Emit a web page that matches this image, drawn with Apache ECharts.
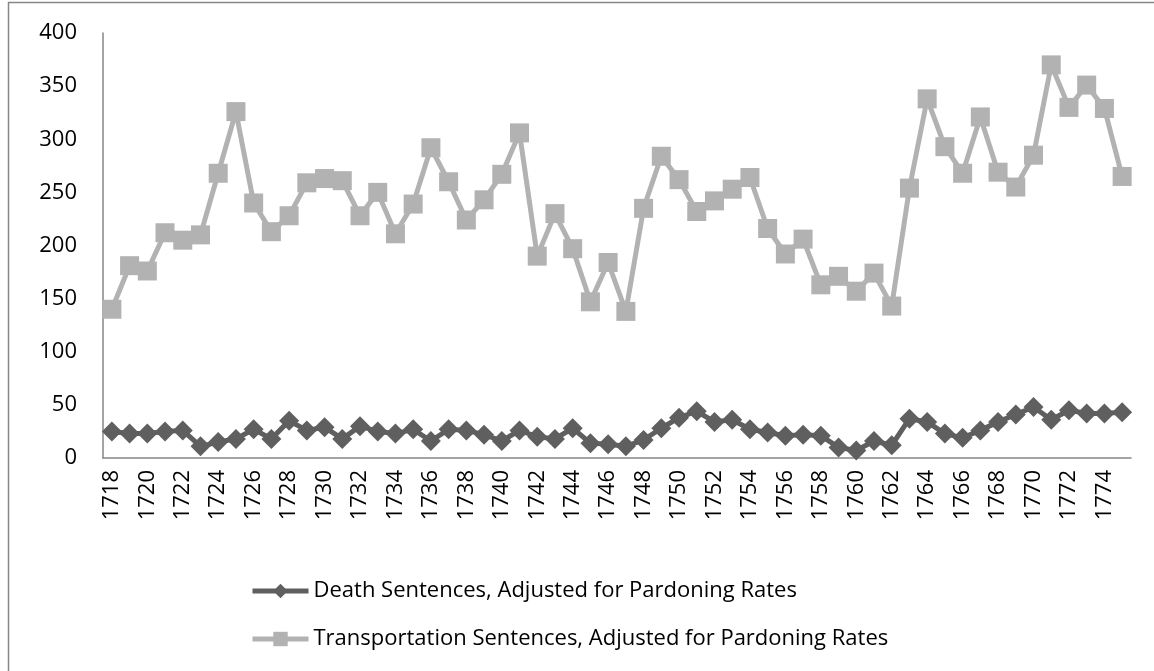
<!DOCTYPE html>
<html>
<head>
<meta charset="utf-8">
<script src="https://cdn.jsdelivr.net/npm/echarts@6/dist/echarts.min.js"></script>
<style>
html,body{margin:0;padding:0;background:#fff;}
#c{width:1154px;height:671px;}
</style>
</head>
<body>
<div id="c"></div>
<script>
const years = [];
for (let y = 1718; y <= 1775; y++) years.push(String(y));

const deathSentences = [25, 23, 23, 25, 26, 11, 15, 18, 27, 18, 35, 26, 29, 18, 30, 25, 23, 27, 16, 27, 26, 22, 16, 26, 20, 18, 28, 14, 13, 11, 17, 28, 38, 44, 34, 36, 27, 24, 21, 22, 21, 10, 7, 16, 12, 37, 34, 23, 19, 26, 34, 41, 48, 36, 45, 42, 42, 43];

const transportationSentences = [140, 181, 176, 212, 205, 210, 268, 326, 240, 213, 228, 259, 263, 261, 228, 250, 211, 239, 292, 260, 224, 243, 267, 306, 190, 230, 197, 147, 184, 138, 235, 284, 262, 232, 242, 253, 264, 216, 192, 206, 163, 171, 157, 174, 143, 254, 338, 293, 268, 321, 269, 255, 285, 370, 330, 351, 329, 265];

const yTicks = [0, 50, 100, 150, 200, 250, 300, 350, 400];

const seriesNames = ['Death Sentences, Adjusted for Pardoning Rates', 'Transportation Sentences, Adjusted for Pardoning Rates'];

const FONT = 'Open Sans';
const FS = 22;
const chart = echarts.init(document.getElementById('c'), null, {renderer: 'canvas'});
chart.setOption({
  animation: false,
  backgroundColor: '#ffffff',
  textStyle: {fontFamily: FONT},
  graphic: [
    {type: 'line', shape: {x1: 8, y1: 2.5, x2: 1154, y2: 2.5}, style: {stroke: '#868686', lineWidth: 1.5}},
    {type: 'line', shape: {x1: 8.5, y1: 2, x2: 8.5, y2: 671}, style: {stroke: '#868686', lineWidth: 1.5}}
  ],
  grid: {left: 103, top: 33, right: 23, bottom: 213, containLabel: false},
  legend: {
    orient: 'vertical',
    left: 245,
    top: 575,
    itemWidth: 56,
    itemHeight: 18,
    itemGap: 26,
    lineStyle: {width: 5},
    textStyle: {fontFamily: FONT, fontSize: FS, color: '#000'},
    data: seriesNames
  },
  xAxis: {
    type: 'category',
    data: years,
    boundaryGap: true,
    axisLine: {lineStyle: {color: '#868686', width: 1.5}},
    axisTick: {show: false},
    axisLabel: {
      interval: 1,
      rotate: 90,
      margin: 12,
      fontFamily: FONT,
      fontSize: FS,
      color: '#000'
    },
    splitLine: {show: false}
  },
  yAxis: {
    type: 'value',
    min: yTicks[0],
    max: yTicks[yTicks.length - 1],
    interval: 50,
    axisLine: {show: true, lineStyle: {color: '#868686', width: 1.5}},
    axisTick: {show: false},
    axisLabel: {margin: 26, fontFamily: FONT, fontSize: FS, color: '#000'},
    splitLine: {show: false}
  },
  series: [
    {
      name: seriesNames[0],
      type: 'line',
      data: deathSentences,
      symbol: 'diamond',
      symbolSize: 20,
      showAllSymbol: true,
      itemStyle: {color: '#5f5f5f'},
      lineStyle: {color: '#5f5f5f', width: 5},
      z: 3
    },
    {
      name: seriesNames[1],
      type: 'line',
      data: transportationSentences,
      symbol: 'rect',
      symbolSize: 19,
      showAllSymbol: true,
      itemStyle: {color: '#b2b2b2'},
      lineStyle: {color: '#b2b2b2', width: 5},
      z: 2
    }
  ]
});
</script>
</body>
</html>
